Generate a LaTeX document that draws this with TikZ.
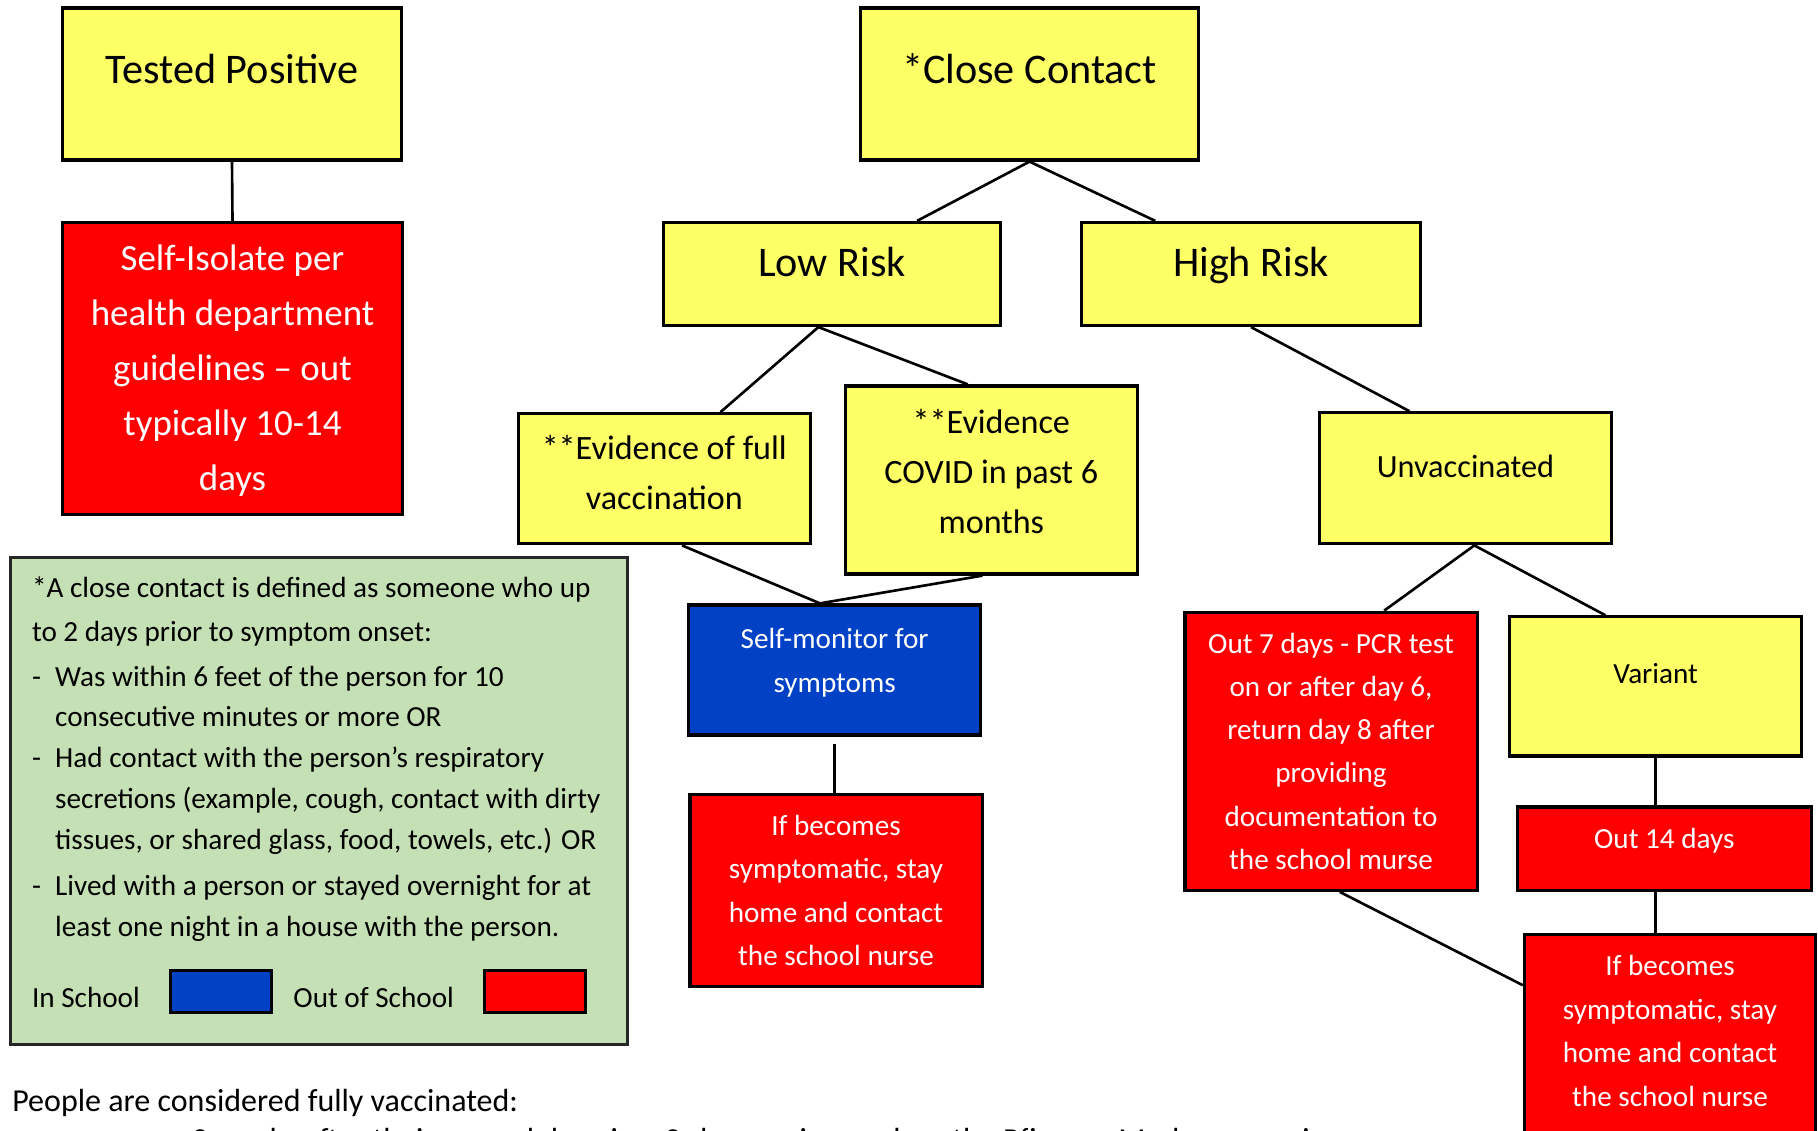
\documentclass[tikz,border=0pt]{standalone}
\usepackage{fontspec}
\setmainfont{Carlito}
\newfontfamily\bulletfont{DejaVu Sans}
\usetikzlibrary{positioning,calc}
\definecolor{boxyellow}{HTML}{FFFF66}
\definecolor{boxred}{HTML}{FF0000}
\definecolor{boxblue}{HTML}{0041C6}
\definecolor{notegreen}{HTML}{C5E0B4}
\newcommand{\itemdash}{\makebox[6.6pt][l]{-}}
\newcommand{\itemgap}{\hspace*{6.6pt}}
\tikzset
{
    flowbox/.style = {rectangle, draw=black, line width=0.9pt, inner sep=0pt},
    ybox/.style    = {flowbox, fill=boxyellow},
    rbox/.style    = {flowbox, fill=boxred},
    bbox/.style    = {flowbox, fill=boxblue},
    ttl/.style     = {align=center, text=black, text height=7.8pt, text depth=0pt, font=\fontsize{12}{14}\selectfont},
    mid/.style     = {align=center, text=black, font=\fontsize{9.7}{14.2}\selectfont},
    sml/.style     = {align=center, text=black, font=\fontsize{8.3}{12.4}\selectfont},
    wtxt/.style    = {align=center, text=white, font=\fontsize{8.3}{12.4}\selectfont},
    note/.style    = {align=left, text=black, inner sep=0pt, font=\fontsize{8.3}{11.6}\selectfont},
    link/.style    = {draw=black, line width=0.75pt}
}

\begin{document}
\begin{tikzpicture}[x=0.01cm, y=-0.01cm]
    \useasboundingbox (0,0) rectangle (1818,1131);
    \clip (0,0) rectangle (1818,1131);

    % tested positive branch
    \node [ybox, minimum width=3.39cm, minimum height=1.52cm, label={[name=tp-t, ttl, yshift=4.1pt]center:{Tested Positive}}] (tp) at (232,84) {};
    \node [rbox, minimum width=3.40cm, minimum height=2.92cm, label={[name=si-t, wtxt, font=\fontsize{10.5}{15.6}\selectfont, yshift=-0.6pt]center:{Self-Isolate per\\health department\\guidelines – out\\typically 10-14\\days}}] (si) at (232.5,368.7) {};

    % close contact tree
    \node [ybox, minimum width=3.385cm, minimum height=1.52cm, label={[name=cc-t, ttl, yshift=4.1pt]center:{*Close Contact}}] (cc) at (1029.5,84) {};
    \node [ybox, minimum width=3.37cm, minimum height=1.03cm, label={[name=lr-t, ttl, yshift=3.1pt]center:{Low Risk}}] (lr) at (832,274) {};
    \node [ybox, minimum width=3.386cm, minimum height=1.03cm, label={[name=hr-t, ttl, yshift=3.1pt]center:{High Risk}}] (hr) at (1251,274) {};
    \node [ybox, minimum width=2.92cm, minimum height=1.30cm, label={[name=ef-t, mid, yshift=1.8pt]center:{**Evidence of full\\vaccination}}] (ef) at (664.3,478.8) {};
    \node [ybox, minimum width=2.92cm, minimum height=1.88cm, label={[name=ec-t, mid, yshift=2.3pt]center:{**Evidence\\COVID in past 6\\months}}] (ec) at (991.3,480) {};
    \node [ybox, minimum width=2.92cm, minimum height=1.31cm, label={[name=uv-t, mid, font=\fontsize{9.2}{13}\selectfont, yshift=3.5pt]center:{Unvaccinated}}] (uv) at (1465.5,478.3) {};
    \node [bbox, minimum width=2.92cm, minimum height=1.30cm, label={[name=sm-t, wtxt, font=\fontsize{8.3}{12.5}\selectfont, yshift=2.2pt]center:{Self-monitor for\\symptoms}}] (sm) at (834.7,670) {};
    \node [rbox, minimum width=2.92cm, minimum height=1.92cm, label={[name=ib1-t, wtxt]center:{If becomes\\symptomatic, stay\\home and contact\\the school nurse}}] (ib1) at (836,890.4) {};
    \node [rbox, minimum width=2.92cm, minimum height=2.78cm, label={[name=o7-t, wtxt, font=\fontsize{8.3}{12.3}\selectfont]center:{Out 7 days - PCR test\\on or after day 6,\\return day 8 after\\providing\\documentation to\\the school murse}}] (o7) at (1331,751.3) {};
    \node [ybox, minimum width=2.92cm, minimum height=1.39cm, label={[name=va-t, sml, yshift=3.7pt]center:{Variant}}] (va) at (1655.6,686.4) {};
    \node [rbox, minimum width=2.934cm, minimum height=0.834cm, label={[name=o14-t, wtxt, yshift=2.4pt]center:{Out 14 days}}] (o14) at (1664.3,848.7) {};
    \node [rbox, minimum width=2.91cm, minimum height=2.15cm, label={[name=ib2-t, wtxt, yshift=3.1pt]center:{If becomes\\symptomatic, stay\\home and contact\\the school nurse}}] (ib2) at (1670,1042) {};

    % connectors
    \draw [link] (tp.south) -- (si.north);
    \draw [link] (cc.south) -- ($(lr.north west)!.75!(lr.north east)$);
    \draw [link] (cc.south) -- ($(hr.north west)!.22!(hr.north east)$);
    \draw [link] ($(ef.north west)!.69!(ef.north east)$) -- ($(lr.south west)!.46!(lr.south east)$) -- ($(ec.north west)!.42!(ec.north east)$);
    \draw [link] (hr.south) -- ($(uv.north west)!.31!(uv.north east)$);
    \draw [link] ($(ef.south west)!.56!(ef.south east)$) -- ($(sm.north west)!.45!(sm.north east)$) -- ($(ec.south west)!.47!(ec.south east)$);
    \draw [link] ([yshift=-2pt]sm.south) -- (sm.south |- ib1.north);
    \draw [link] ($(o7.north west)!.68!(o7.north east)$) -- ($(uv.south west)!.53!(uv.south east)$) -- ($(va.north west)!.33!(va.north east)$);
    \draw [link] (va.south) -- (va.south |- o14.north);
    \draw [link] (va.south |- o14.south) -- (va.south |- ib2.north);
    \draw [link] ($(o7.south west)!.53!(o7.south east)$) -- ($(ib2.north west)!.24!(ib2.south west)$);

    % definition note and legend
    \node [flowbox, draw=black!85, line width=0.8pt, fill=notegreen, minimum width=6.17cm, minimum height=4.87cm] (defn) at (318.8,801.2) {};
    \node [note, anchor=north west] (defn-t) at (31.3,576)
        {*A close contact is defined as someone who up\\[1pt]
         to 2 days prior to symptom onset:\\[1pt]
         \itemdash Was within 6 feet of the person for 10\\
         \itemgap consecutive minutes or more OR\\
         \itemdash Had contact with the person’s respiratory\\
         \itemgap secretions (example, cough, contact with dirty\\
         \itemgap tissues, or shared glass, food, towels, etc.) OR\\[1.6pt]
         \itemdash Lived with a person or stayed overnight for at\\
         \itemgap least one night in a house with the person.};
    \node [bbox, minimum width=1.01cm, minimum height=0.42cm] (insw) at (220.9,991.3) {};
    \node [rbox, minimum width=1.01cm, minimum height=0.42cm] (outsw) at (535,991.3) {};
    \node [note, anchor=west] (in-t) at (31.3,997) {In School};
    \node [note, right=0.197cm of insw, yshift=-1.7pt] (out-t) {Out of School};

    % vaccination footnote
    \node [note, anchor=base west, font=\fontsize{9.1}{11}\selectfont] (fv-t) at (11.6,1111)
        {People are considered fully vaccinated:};
    \node [note, anchor=base west, font=\fontsize{9.1}{11}\selectfont] (fv-a) at (160,1150)
        {{\bulletfont\fontsize{7}{8}\selectfont ➢}\hspace{3pt}2 weeks after their second dose in a 2-dose series, such as the Pfizer or Moderna vaccines};
\end{tikzpicture}
\end{document}
